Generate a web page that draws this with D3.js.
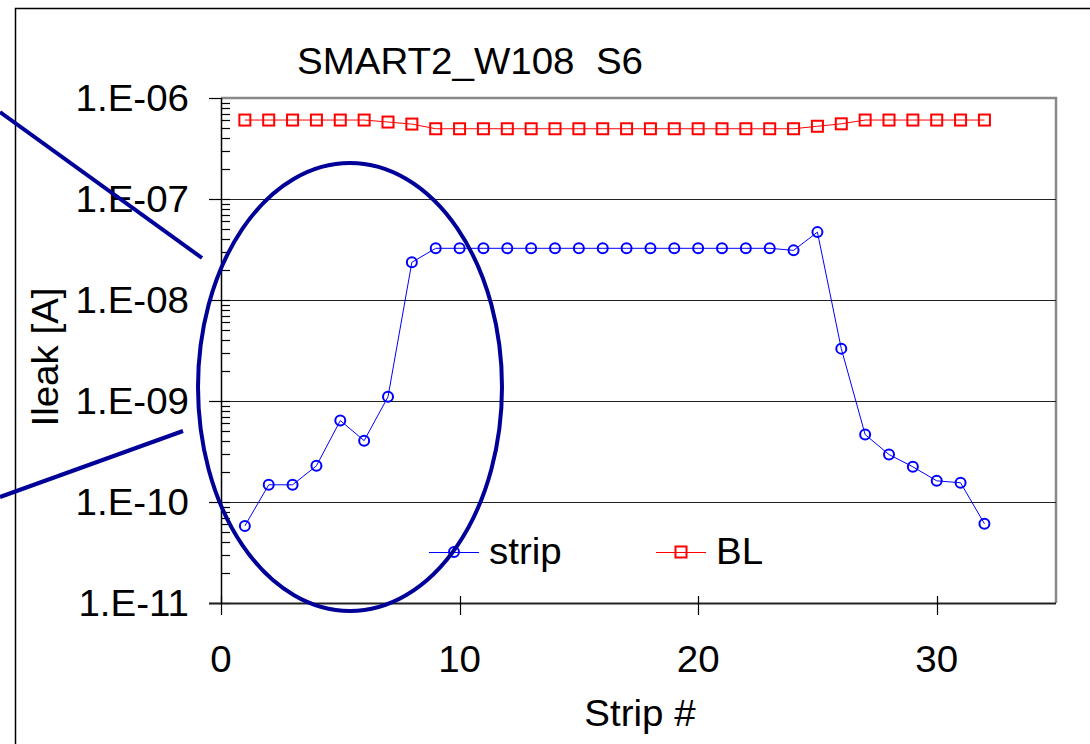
<!DOCTYPE html>
<html>
<head>
<meta charset="utf-8">
<script src="https://cdn.jsdelivr.net/npm/d3@7"></script>
<style>
  html, body { margin: 0; padding: 0; background: #fff; }
  svg { display: block; }
  text { font-family: "Liberation Sans", Arial, sans-serif; fill: #000; white-space: pre; }
</style>
</head>
<body>
<svg id="chart" width="1090" height="744"></svg>
<script>
// Leakage current per strip, module SMART2_W108, sensor S6
const strips = d3.range(1, 33);
const stripCurrent = [
  5.8e-11, 1.48e-10, 1.48e-10, 2.28e-10, 6.4e-10, 4.05e-10, 1.1e-9, 2.36e-8,
  3.25e-8, 3.25e-8, 3.25e-8, 3.25e-8, 3.25e-8, 3.25e-8, 3.25e-8, 3.25e-8,
  3.25e-8, 3.25e-8, 3.25e-8, 3.25e-8, 3.25e-8, 3.25e-8, 3.25e-8, 3.1e-8,
  4.7e-8, 3.3e-9, 4.65e-10, 2.95e-10, 2.23e-10, 1.62e-10, 1.55e-10, 6.1e-11
];
const blCurrent = [
  6.05e-7, 6.05e-7, 6.05e-7, 6.05e-7, 6.05e-7, 6.05e-7, 5.78e-7, 5.52e-7,
  4.96e-7, 4.96e-7, 4.96e-7, 4.96e-7, 4.96e-7, 4.96e-7, 4.96e-7, 4.96e-7,
  4.96e-7, 4.96e-7, 4.96e-7, 4.96e-7, 4.96e-7, 4.96e-7, 4.96e-7, 4.96e-7,
  5.25e-7, 5.55e-7, 6.05e-7, 6.05e-7, 6.05e-7, 6.05e-7, 6.05e-7, 6.05e-7
];
const xTicks = [0, 10, 20, 30];
const yTicks = [1e-11, 1e-10, 1e-9, 1e-8, 1e-7, 1e-6];
const yTickLabels = ["1.E-11", "1.E-10", "1.E-09", "1.E-08", "1.E-07", "1.E-06"];
const seriesNames = ["strip", "BL"];
const titleText = "SMART2_W108  S6";

const svg = d3.select("#chart");
const plot = { left: 221, top: 98, right: 1056, bottom: 603 };
const FONT = 36, STRETCH = 1.07;

const x = d3.scaleLinear().domain([0, 35]).range([plot.left, plot.right]);
const y = d3.scaleLog().domain([1e-11, 1e-6]).range([plot.bottom, plot.top]);

// text with the slightly wide glyphs used throughout the chart
function label(g, tx, ty, str, anchor = "start", rotate = 0) {
  return g.append("text")
    .attr("transform", `translate(${tx},${ty}) rotate(${rotate}) scale(${STRETCH},1)`)
    .attr("text-anchor", anchor)
    .attr("font-size", FONT)
    .text(str);
}

// outer chart frame
svg.append("rect")
  .attr("x", 15.5).attr("y", 8.5).attr("width", 1100).attr("height", 800)
  .attr("fill", "#fff").attr("stroke", "#000").attr("stroke-width", 1.5);

// plot area border (top and right, grey)
svg.append("path")
  .attr("d", `M${plot.left},${plot.top}H${plot.right}V${plot.bottom}`)
  .attr("fill", "none").attr("stroke", "#888").attr("stroke-width", 2.5);

// decade gridlines
svg.append("g").selectAll("line")
  .data(yTicks.slice(1, -1))
  .join("line")
  .attr("x1", plot.left).attr("x2", plot.right)
  .attr("y1", d => Math.round(y(d)) + 0.5).attr("y2", d => Math.round(y(d)) + 0.5)
  .attr("stroke", "#222").attr("stroke-width", 1.2);

// y axis: major ticks outward, minor log ticks inward
const yAxis = svg.append("g");
yAxis.append("line")
  .attr("x1", plot.left + 0.5).attr("x2", plot.left + 0.5)
  .attr("y1", plot.top).attr("y2", plot.bottom)
  .attr("stroke", "#000").attr("stroke-width", 1.5);
yAxis.selectAll(".major")
  .data(yTicks)
  .join("line")
  .attr("x1", plot.left - 12).attr("x2", plot.left)
  .attr("y1", d => Math.round(y(d)) + 0.5).attr("y2", d => Math.round(y(d)) + 0.5)
  .attr("stroke", "#000").attr("stroke-width", 1.2);
const minor = [];
yTicks.slice(0, -1).forEach(d => { for (let k = 1; k <= 9; k++) minor.push(d * k); });
yAxis.selectAll(".minor")
  .data(minor)
  .join("line")
  .attr("x1", plot.left).attr("x2", plot.left + 9)
  .attr("y1", d => Math.round(y(d)) + 0.5).attr("y2", d => Math.round(y(d)) + 0.5)
  .attr("stroke", "#000").attr("stroke-width", 1.2);
yTicks.forEach((d, i) => label(yAxis, 189, y(d) + 13, yTickLabels[i], "end"));

// x axis
const xAxis = svg.append("g");
xAxis.append("line")
  .attr("x1", plot.left - 12).attr("x2", plot.right)
  .attr("y1", plot.bottom + 0.5).attr("y2", plot.bottom + 0.5)
  .attr("stroke", "#222").attr("stroke-width", 2);
xAxis.selectAll(".tick")
  .data(xTicks)
  .join("line")
  .attr("x1", d => Math.round(x(d)) + 0.5).attr("x2", d => Math.round(x(d)) + 0.5)
  .attr("y1", plot.bottom - 7).attr("y2", plot.bottom + 12)
  .attr("stroke", "#000").attr("stroke-width", 1.2);
xTicks.forEach(d => label(xAxis, x(d), 672, String(d), "middle"));

// axis titles and chart title
label(svg, 640, 726, "Strip #", "middle");
label(svg, 58, 357, "Ileak [A]", "middle", -90);
label(svg, 470, 74, titleText, "middle");

// data series
const line = d3.line().x(d => x(d[0])).y(d => y(d[1]));
const stripData = strips.map((s, i) => [s, stripCurrent[i]]);
const blData = strips.map((s, i) => [s, blCurrent[i]]);

function drawCircle(g, cx, cy) {
  g.append("circle").attr("cx", cx).attr("cy", cy).attr("r", 5)
    .attr("fill", "none").attr("stroke", "#0000ff").attr("stroke-width", 2);
}
function drawSquare(g, cx, cy) {
  g.append("rect").attr("x", cx - 5.5).attr("y", cy - 5.5)
    .attr("width", 11).attr("height", 11)
    .attr("fill", "none").attr("stroke", "#ff0000").attr("stroke-width", 2);
}

const gBL = svg.append("g");
gBL.append("path").datum(blData).attr("d", line)
  .attr("fill", "none").attr("stroke", "#ff0000").attr("stroke-width", 1);
blData.forEach(d => drawSquare(gBL, x(d[0]), y(d[1])));

const gStrip = svg.append("g");
gStrip.append("path").datum(stripData).attr("d", line)
  .attr("fill", "none").attr("stroke", "#0000ff").attr("stroke-width", 1);
stripData.forEach(d => drawCircle(gStrip, x(d[0]), y(d[1])));

// legend
const legend = svg.append("g");
const legendItems = [
  { name: seriesNames[0], x0: 429, color: "#0000ff", marker: drawCircle },
  { name: seriesNames[1], x0: 656, color: "#ff0000", marker: drawSquare }
];
legendItems.forEach(it => {
  legend.append("line")
    .attr("x1", it.x0).attr("x2", it.x0 + 50)
    .attr("y1", 552.5).attr("y2", 552.5)
    .attr("stroke", it.color).attr("stroke-width", 1);
  it.marker(legend, it.x0 + 25, 552);
  label(legend, it.x0 + 60, 564, it.name);
});

// highlight annotation: ellipse around the low-current strips and two pointer lines
const ann = svg.append("g")
  .attr("fill", "none").attr("stroke", "#000099").attr("stroke-width", 4);
ann.append("ellipse")
  .attr("cx", 350).attr("cy", 387).attr("rx", 152).attr("ry", 224);
ann.append("line").attr("x1", 0).attr("y1", 112).attr("x2", 202).attr("y2", 258);
ann.append("line").attr("x1", 0).attr("y1", 497).attr("x2", 183).attr("y2", 431);
</script>
</body>
</html>
